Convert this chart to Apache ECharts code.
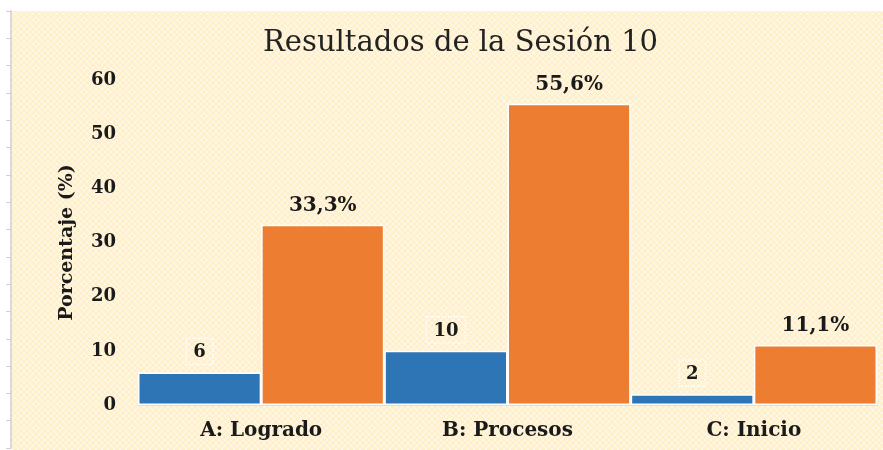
<!DOCTYPE html>
<html>
<head>
<meta charset="utf-8">
<script src="https://cdn.jsdelivr.net/npm/echarts@6/dist/echarts.min.js"></script>
<style>
  html, body { margin: 0; padding: 0; background: #fff; }
  #chart { width: 883px; height: 450px; }
</style>
</head>
<body>
<div id="chart"></div>
<script>
// data
const categories = ['A: Logrado', 'B: Procesos', 'C: Inicio']
const cantidad = [6, 10, 2]
const porcentaje = [33.3, 55.6, 11.1]
const yTicks = [0, 10, 20, 30, 40, 50, 60]

// crosshatch background, like the original slide
const makePattern = () => {
    const c = document.createElement('canvas')
    c.width = 6
    c.height = 6
    const ctx = c.getContext('2d')
    ctx.fillStyle = '#FEF0CD'
    ctx.fillRect(0, 0, 6, 6)
    ctx.strokeStyle = '#FFF8E6'
    ctx.lineWidth = 1
    ctx.beginPath()
    ctx.moveTo(0, 0); ctx.lineTo(6, 6)
    ctx.moveTo(6, 0); ctx.lineTo(0, 6)
    ctx.stroke()
    return c
}

const serif = 'DejaVu Serif'
const chart = echarts.init(document.getElementById('chart'))
chart.setOption({
    backgroundColor: '#ffffff',
    animation: false,
    graphic: [
        {
            type: 'rect',
            left: 12, top: 11,
            shape: { width: 871, height: 439 },
            style: { fill: { image: makePattern(), repeat: 'repeat' } },
            z: -10
        }
    ],
    title: {
        text: 'Resultados de la Sesión 10',
        left: 258,
        top: 24,
        textStyle: { fontFamily: serif, fontWeight: 'normal', fontSize: 29, color: '#222' }
    },
    grid: [
        { left: 138, right: 6, top: 80, bottom: 45 },
        // decorative ruler on the left edge
        { left: 11, top: 11, bottom: 2, width: 1 }
    ],
    xAxis: [
        {
            type: 'category',
            data: categories,
            axisLine: { lineStyle: { color: '#d6d6d6', width: 1.5 } },
            axisTick: { show: false },
            axisLabel: {
                margin: 16,
                fontFamily: serif, fontWeight: 'bold', fontSize: 20, color: '#1a1a1a'
            }
        },
        { gridIndex: 1, type: 'value', show: false }
    ],
    yAxis: [
        {
            type: 'value',
            min: yTicks[0],
            max: yTicks[yTicks.length - 1],
            interval: 10,
            name: 'Porcentaje (%)',
            nameLocation: 'middle',
            nameGap: 61,
            nameTextStyle: { fontFamily: serif, fontWeight: 'bold', fontSize: 19, color: '#1a1a1a' },
            axisLine: { show: false },
            axisTick: { show: false },
            splitLine: { show: false },
            axisLabel: {
                margin: 22,
                fontFamily: serif, fontWeight: 'bold', fontSize: 18, color: '#1a1a1a'
            }
        },
        {
            gridIndex: 1,
            type: 'value',
            min: 0, max: 16, interval: 1,
            axisLine: { show: true, lineStyle: { color: '#d9d9d9', width: 2 } },
            axisTick: { show: true, length: 5, lineStyle: { color: '#cfcfcf' } },
            axisLabel: { show: false },
            splitLine: { show: false }
        }
    ],
    series: [
        {
            type: 'bar',
            data: cantidad,
            barGap: '0%',
            barCategoryGap: '0%',
            itemStyle: { color: '#2E75B6', borderColor: '#ffffff', borderWidth: 1.5 },
            label: {
                show: true,
                position: 'top',
                distance: 8,
                fontFamily: serif, fontWeight: 'bold', fontSize: 18, color: '#1a1a1a',
                padding: [5, 7, 3, 7],
                borderColor: '#ffffff',
                borderWidth: 1.5,
                borderType: 'dotted'
            }
        },
        {
            type: 'bar',
            data: porcentaje,
            itemStyle: { color: '#ED7D31', borderColor: '#ffffff', borderWidth: 1.5 },
            label: {
                show: true,
                position: 'top',
                distance: 9,
                fontFamily: serif, fontWeight: 'bold', fontSize: 20, color: '#1a1a1a',
                formatter: p => String(p.value).replace('.', ',') + '%'
            }
        }
    ]
})
</script>
</body>
</html>
